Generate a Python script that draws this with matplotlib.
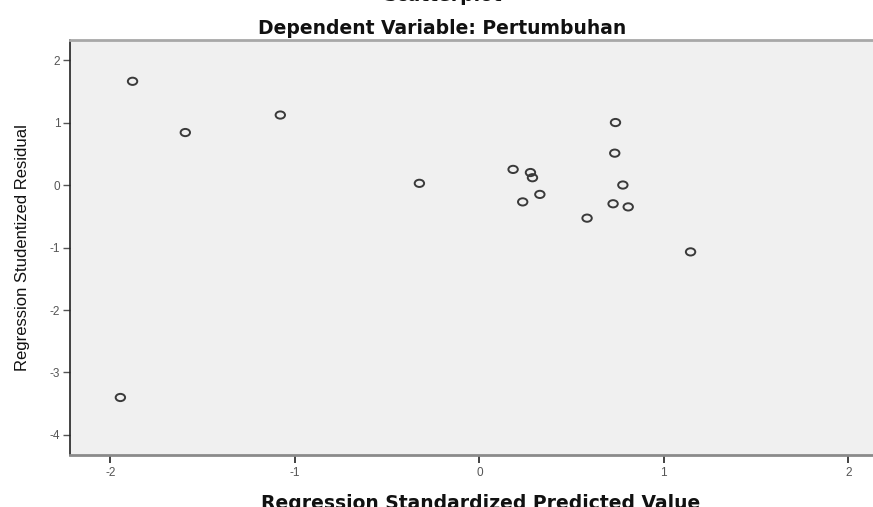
import matplotlib
matplotlib.use('Agg')
import matplotlib.pyplot as plt
from matplotlib.path import Path
from matplotlib.transforms import Affine2D

# standardized predicted value vs studentized residual
pred = [-1.88, -1.594, -1.079, -0.325, 0.183, 0.277, 0.288, 0.235, 0.328,
        0.584, 0.738, 0.734, 0.778, 0.725, 0.807, 1.145, -1.946]
resid = [1.66, 0.84, 1.12, 0.027, 0.25, 0.20, 0.117, -0.27, -0.15,
         -0.53, 1.0, 0.51, 0.0, -0.30, -0.35, -1.07, -3.40]
xticks = [-2, -1, 0, 1, 2]
yticks = [2, 1, 0, -1, -2, -3, -4]

plt.rcParams['font.family'] = ['Liberation Sans', 'DejaVu Sans']
plt.rcParams['axes.unicode_minus'] = False

# slightly wide ellipse, like the stretched original
oval = Affine2D().scale(1.3, 1.0).transform_path(Path.unit_circle())

fig = plt.figure(figsize=(8.73, 5.07), dpi=100)
ax = fig.add_axes([0.0802, 0.1026, 0.9198, 0.8184])
ax.set_facecolor('#f0f0f0')

ax.scatter(pred, resid, s=46, marker=oval, facecolors='none',
           edgecolors='#3a3a3a', linewidths=1.4, zorder=3)

ax.set_xlim(-2.219, 2.134)
ax.set_ylim(-4.32, 2.32)
ax.set_xticks(xticks)
ax.set_yticks(yticks)
ax.tick_params(axis='both', labelsize=8.5, colors='#555555', direction='out')
ax.tick_params(axis='x', length=6, width=1.2, color='#222222', pad=3)
ax.tick_params(axis='y', length=5, width=1, color='#555555', pad=2)

ax.spines['right'].set_visible(False)
ax.spines['top'].set_color('#a8a8a8')
ax.spines['top'].set_linewidth(2)
ax.spines['bottom'].set_color('#8a8a8a')
ax.spines['bottom'].set_linewidth(2)
ax.spines['left'].set_color('#222222')
ax.spines['left'].set_linewidth(1.2)

ax.set_xlabel('Regression Standardized Predicted Value', fontsize=13.5,
              fontweight='bold', family='DejaVu Sans', color='#111111')
ax.xaxis.set_label_coords(0.511, -0.093, transform=ax.transAxes)
ax.xaxis.label.set_va('top')
ax.set_ylabel('Regression Studentized Residual', fontsize=12,
              labelpad=14, color='#111111')

fig.text(0.507, 0.943, 'Dependent Variable: Pertumbuhan', ha='center',
         va='center', fontsize=13.5, fontweight='bold', family='DejaVu Sans',
         color='#111111')
# main title, mostly above the visible area as in the original
fig.text(0.507, 1.008, 'Scatterplot', ha='center', va='center',
         fontsize=13.5, fontweight='bold', family='DejaVu Sans',
         color='#111111')

fig.savefig('out.png', dpi=100)
